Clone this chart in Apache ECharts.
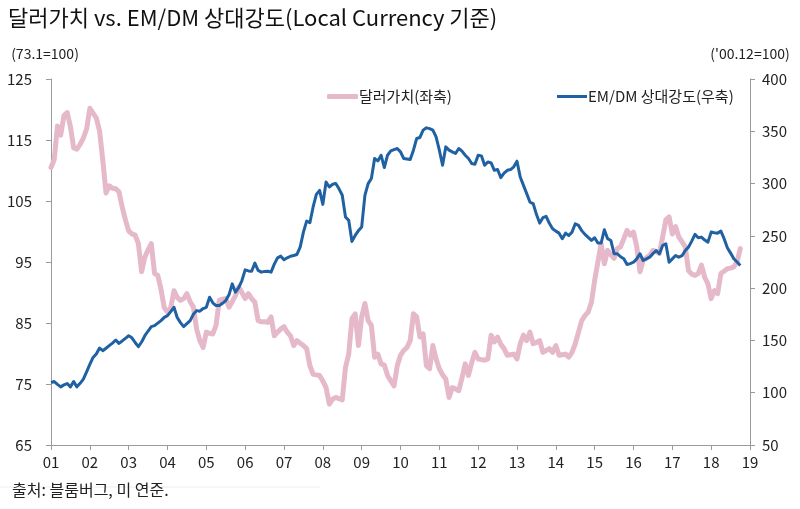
<!DOCTYPE html>
<html>
<head>
<meta charset="utf-8">
<script src="https://cdn.jsdelivr.net/npm/echarts@6/dist/echarts.min.js"></script>
<style>
html,body{margin:0;padding:0;background:#fff;}
#chart{width:800px;height:509px;}
</style>
</head>
<body>
<div id="chart"></div>
<script>
// ---- data ----
const titleText = '달러가치 vs. EM/DM 상대강도(Local Currency 기준)';
const leftUnit = '(73.1=100)';
const rightUnit = "('00.12=100)";
const sourceText = '출처: 블룸버그, 미 연준.';
const seriesNames = ['달러가치(좌축)', 'EM/DM 상대강도(우축)'];
const startYear = 2001;
const endYear = 2019;
const leftTicks = [65, 75, 85, 95, 105, 115, 125];
const rightTicks = [50, 100, 150, 200, 250, 300, 350, 400];

// monthly, 2001-01 .. 2018-10 (left axis)
const dollarValue = [
  110.5, 111.8, 117.3, 115.8, 119.0, 119.5, 117.2, 113.7, 113.5, 114.3, 115.3, 116.8,
  120.2, 119.4, 118.6, 116.5, 111.7, 106.3, 107.5, 107.1, 107.0, 106.5, 104.0, 101.9,
  100.1, 99.6, 99.4, 98.0, 93.4, 95.8, 97.0, 98.0, 93.1, 92.8, 90.5, 87.5,
  86.8, 87.5, 90.3, 89.2, 88.7, 89.0, 89.8, 88.5, 87.6, 84.0, 82.1, 81.0,
  83.5, 83.3, 83.2, 84.6, 88.7, 88.9, 89.0, 87.6, 88.5, 89.5, 90.9, 90.0,
  89.0, 89.8, 89.0, 88.4, 85.4, 85.2, 85.2, 85.1, 86.0, 82.9, 83.5, 84.0,
  84.4, 83.5, 82.9, 81.3, 82.1, 81.7, 81.3, 80.8, 78.0, 76.6, 76.5, 76.4,
  75.5, 74.4, 71.7, 72.5, 72.8, 72.6, 72.4, 77.7, 79.9, 85.7, 86.5, 81.3,
  86.0, 88.2, 85.4, 84.6, 79.4, 79.9, 78.3, 78.1, 76.4, 75.5, 74.7, 78.0,
  79.7, 80.5, 81.0, 82.1, 86.5, 86.0, 82.7, 83.2, 78.0, 77.5, 81.3, 79.1,
  77.5, 76.5, 75.8, 72.8, 74.4, 74.2, 73.9, 76.0, 78.3, 76.4, 78.5, 80.2,
  79.1, 79.0, 78.9, 79.1, 83.0, 81.9, 82.7, 81.5, 80.8, 79.7, 79.8, 79.9,
  79.1, 81.6, 83.0, 82.1, 83.5, 81.6, 81.8, 82.1, 80.2, 80.5, 80.8, 80.2,
  81.3, 79.7, 79.8, 79.9, 79.4, 80.2, 81.6, 83.5, 85.4, 86.2, 86.8, 88.4,
  92.0, 95.0, 98.0, 94.7, 96.9, 96.2, 95.6, 97.2, 97.5, 98.8, 100.2, 99.4,
  99.9, 97.5, 93.4, 95.3, 95.7, 96.1, 96.9, 96.7, 96.4, 99.1, 101.9, 102.4,
  99.6, 100.8, 99.1, 98.3, 97.5, 93.6, 93.0, 92.8, 93.1, 94.5, 92.5, 91.4,
  89.0, 90.3, 89.8, 93.1, 93.5, 93.9, 94.0, 94.2, 95.0, 97.2
];

// monthly, 2001-01 .. 2018-10 (right axis)
const emdmStrength = [
  109.8, 110.7, 108.0, 105.6, 107.5, 108.8, 105.6, 110.7, 105.6, 109.0, 113.0, 120.0,
  127.0, 133.7, 137.0, 142.7, 140.2, 142.5, 145.0, 147.5, 150.4, 147.2, 149.5, 152.0,
  154.5, 152.5, 148.0, 144.0, 148.5, 154.5, 159.0, 163.2, 164.1, 166.5, 168.9, 172.0,
  173.7, 177.5, 181.7, 172.0, 167.0, 163.2, 166.0, 168.9, 175.0, 178.5, 178.0, 180.5,
  181.7, 191.3, 186.0, 183.3, 183.3, 185.5, 188.1, 193.6, 204.1, 196.1, 200.5, 207.3,
  217.5, 216.5, 216.2, 223.9, 217.0, 215.3, 216.0, 216.2, 215.3, 223.0, 229.0, 230.6,
  227.1, 229.0, 230.5, 231.2, 232.2, 239.2, 253.6, 264.1, 262.6, 277.6, 289.7, 293.5,
  280.1, 301.5, 296.7, 299.3, 300.0, 295.0, 288.8, 268.0, 264.8, 244.7, 250.4, 255.0,
  258.4, 288.8, 300.0, 304.8, 324.0, 321.7, 327.1, 315.3, 327.1, 331.2, 332.5, 333.5,
  330.3, 324.0, 323.5, 323.0, 331.9, 343.1, 344.1, 351.1, 353.3, 352.5, 351.1, 344.7,
  331.9, 317.5, 335.1, 332.0, 330.3, 328.8, 333.5, 331.0, 327.1, 324.0, 319.2, 318.5,
  327.1, 326.5, 317.5, 320.7, 319.7, 312.7, 313.4, 305.7, 310.0, 312.7, 313.4, 316.0,
  321.4, 306.3, 298.3, 290.4, 282.3, 280.8, 270.6, 262.2, 267.4, 268.6, 262.0, 256.8,
  254.5, 252.6, 247.3, 252.6, 250.4, 253.6, 261.6, 260.0, 255.0, 251.4, 248.5, 245.6,
  248.2, 243.1, 243.1, 255.9, 247.3, 245.6, 232.9, 232.9, 230.0, 228.1, 222.6, 223.5,
  224.8, 228.0, 232.9, 226.4, 228.0, 229.6, 233.0, 236.0, 232.9, 240.8, 242.4, 224.8,
  228.0, 231.2, 229.6, 231.0, 236.0, 239.2, 245.0, 251.4, 248.2, 248.8, 246.0, 244.0,
  253.6, 253.0, 252.6, 254.5, 247.3, 238.6, 233.5, 228.1, 225.0, 221.7
];

// month categories 2001-01 .. 2019-01
const months = [];
for (let y = startYear; y < endYear; y++) {
  for (let m = 1; m <= 12; m++) months.push(y + '-' + (m < 10 ? '0' + m : '' + m));
}
months.push(endYear + '-01');

const isYearStart = (idx, val) => String(val).endsWith('-01');

const FONT = "'Noto Sans CJK KR', 'Noto Sans', sans-serif";
const axisGray = '#9a9a9a';

const chart = echarts.init(document.getElementById('chart'));
chart.setOption({
  animation: false,
  backgroundColor: '#fff',
  textStyle: { fontFamily: FONT },
  title: {
    text: titleText,
    left: 3,
    top: 2,
    textStyle: { fontSize: 22, fontWeight: 'normal', color: '#111', fontFamily: FONT }
  },
  legend: [
    {
      data: [seriesNames[0]],
      left: 322, top: 84,
      icon: 'roundRect', itemWidth: 31, itemHeight: 5, itemGap: 0,
      textStyle: { fontSize: 15, color: '#222', padding: [0, 0, 0, -4] }
    },
    {
      data: [seriesNames[1]],
      left: 552, top: 84,
      icon: 'rect', itemWidth: 30, itemHeight: 3, itemGap: 0,
      textStyle: { fontSize: 15, color: '#222', padding: [0, 0, 0, -4] }
    }
  ],
  grid: { left: 51, right: 50, top: 79, bottom: 64, containLabel: false },
  xAxis: {
    type: 'category',
    data: months,
    boundaryGap: false,
    axisLine: { lineStyle: { color: axisGray, width: 1 } },
    axisTick: { show: true, interval: isYearStart, length: 5, lineStyle: { color: axisGray } },
    axisLabel: {
      interval: isYearStart,
      formatter: v => v.slice(2, 4),
      fontSize: 15, color: '#222', margin: 10
    },
    splitLine: { show: false }
  },
  yAxis: [
    {
      type: 'value', min: leftTicks[0], max: leftTicks[leftTicks.length - 1], interval: 10,
      position: 'left',
      name: leftUnit, nameLocation: 'end', nameGap: 18,
      nameTextStyle: { fontSize: 14, color: '#222', padding: [0, 12, 0, 0] },
      axisLine: { show: true, lineStyle: { color: axisGray } },
      axisTick: { show: true, length: 5, lineStyle: { color: axisGray } },
      axisLabel: { fontSize: 15, color: '#222', margin: 19 },
      splitLine: { show: false }
    },
    {
      type: 'value', min: rightTicks[0], max: rightTicks[rightTicks.length - 1], interval: 50,
      position: 'right',
      name: rightUnit, nameLocation: 'end', nameGap: 18,
      nameTextStyle: { fontSize: 14, color: '#222' },
      axisLine: { show: true, lineStyle: { color: axisGray } },
      axisTick: { show: true, length: 5, lineStyle: { color: axisGray } },
      axisLabel: { fontSize: 15, color: '#222', margin: 12 },
      splitLine: { show: false }
    }
  ],
  series: [
    {
      name: seriesNames[0], type: 'line', yAxisIndex: 0,
      data: dollarValue, showSymbol: false, symbol: 'none',
      lineStyle: { color: '#e5b9ca', width: 5, cap: 'round', join: 'round' },
      itemStyle: { color: '#e5b9ca' },
      z: 2
    },
    {
      name: seriesNames[1], type: 'line', yAxisIndex: 1,
      data: emdmStrength, showSymbol: false, symbol: 'none',
      lineStyle: { color: '#1f61a3', width: 3, join: 'round' },
      itemStyle: { color: '#1f61a3' },
      z: 3
    }
  ],
  graphic: [
    {
      type: 'line', silent: true,
      shape: { x1: 0, y1: 487, x2: 320, y2: 487 },
      style: { stroke: '#eeeeee', lineWidth: 1 }
    },
    {
      type: 'text', left: 12, top: 482, silent: true,
      style: { text: sourceText, font: '16px ' + FONT, fill: '#222' }
    }
  ]
});
</script>
</body>
</html>
